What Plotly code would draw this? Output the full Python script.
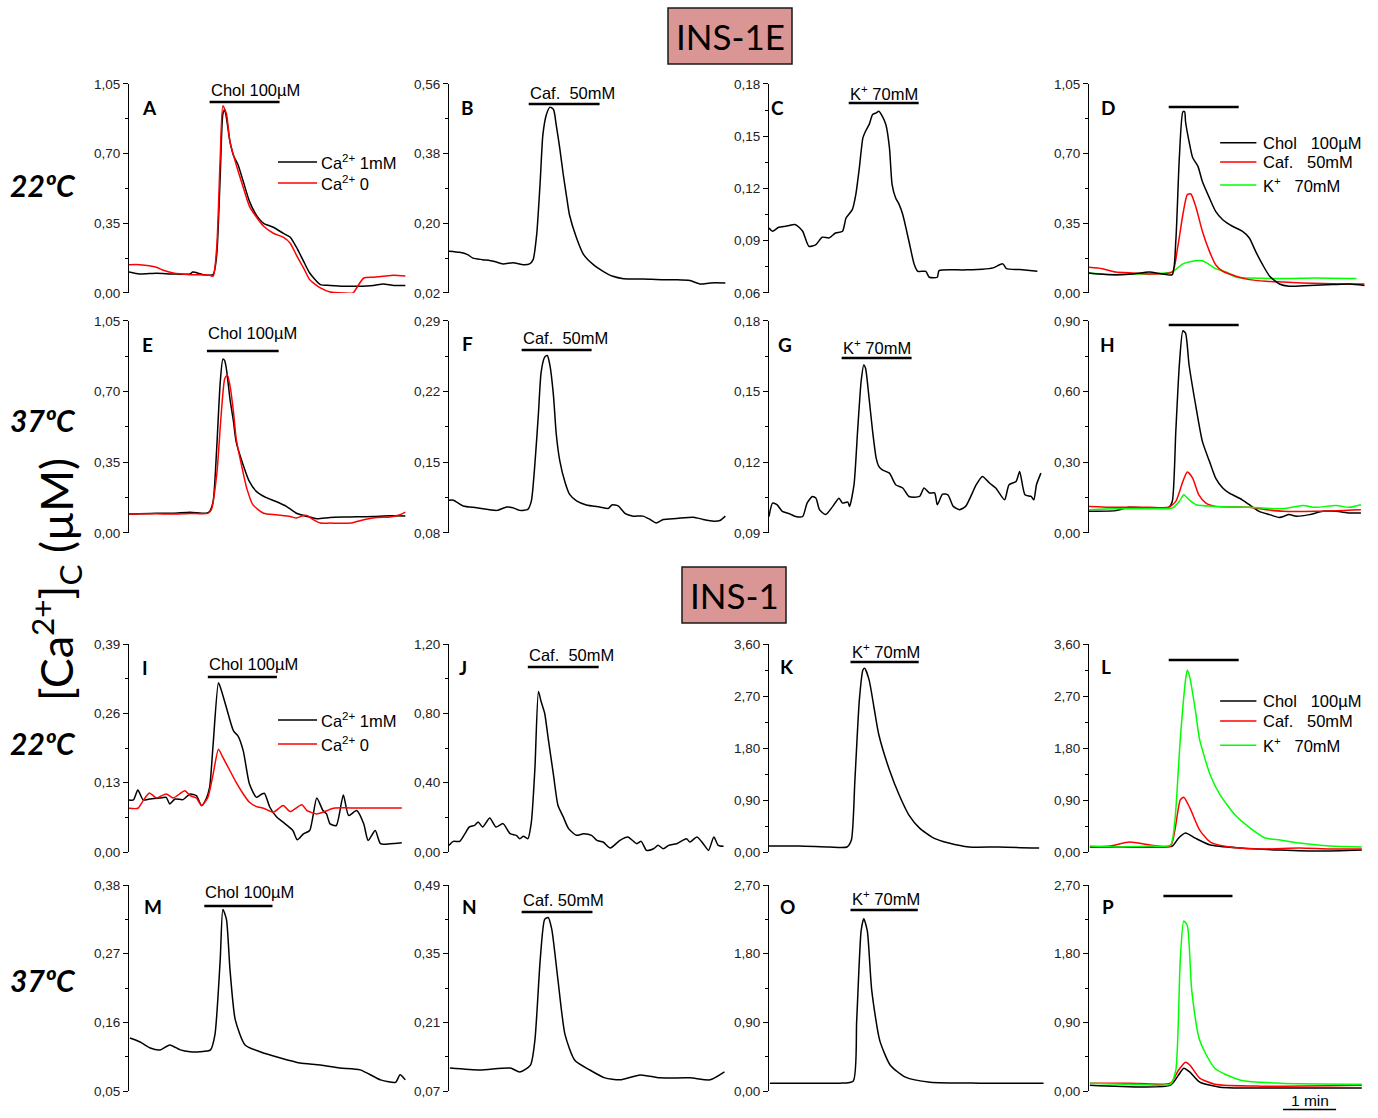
import plotly.graph_objects as go

# ---------------- DATA (time in s, [Ca2+]c in µM) ----------------
# Row 1 INS-1E 22ºC
A_ca1_t = [0,12,31,50,69,72,84,95,99,103,106,108,110,114,118,123,129,136,144,152,163,174,182,189,197,204,216,227,242,257,276,287,299,312]
A_ca1 = [0.105,0.095,0.099,0.095,0.095,0.105,0.092,0.092,0.19,0.59,0.90,0.92,0.88,0.76,0.69,0.645,0.56,0.46,0.39,0.35,0.33,0.30,0.28,0.23,0.16,0.10,0.042,0.038,0.034,0.034,0.038,0.045,0.038,0.038]
A_ca0_t = [0,12,31,38,50,69,91,95,99,103,106,110,114,121,129,136,144,152,163,174,182,189,197,204,216,227,242,253,257,265,276,287,299,312]
A_ca0 = [0.142,0.142,0.129,0.115,0.10,0.092,0.089,0.084,0.226,0.68,0.94,0.90,0.76,0.645,0.53,0.435,0.38,0.335,0.30,0.28,0.25,0.19,0.126,0.067,0.025,0.005,0.0,0.0,0.025,0.075,0.079,0.084,0.089,0.085]

B_t = [0,12,21,27,38,50,61,72,84,91,95,99,103,106,110,114,118,121,125,129,133,136,144,152,163,174,185,197,219,242,257,272,284,295,312]
B_caf = [0.128,0.125,0.119,0.110,0.106,0.102,0.095,0.098,0.093,0.095,0.106,0.171,0.309,0.429,0.481,0.500,0.494,0.455,0.395,0.326,0.265,0.222,0.162,0.119,0.093,0.076,0.063,0.057,0.056,0.054,0.054,0.052,0.043,0.046,0.046]

C_t = [0,4,11,19,30,38,45,53,60,68,75,83,87,94,98,102,106,109,113,117,121,124,128,132,136,139,143,147,151,158,164,168,177,181,190,192,219,241,253,264,268,283,303]
C_k = [0.0973,0.0954,0.0977,0.0983,0.0992,0.0954,0.0868,0.0878,0.092,0.0916,0.0944,0.0954,0.103,0.1078,0.1165,0.1318,0.149,0.1528,0.1566,0.1624,0.1634,0.1643,0.1614,0.1566,0.1433,0.1222,0.1145,0.1107,0.105,0.0897,0.0763,0.0724,0.0724,0.069,0.069,0.0728,0.0732,0.0736,0.0744,0.0767,0.074,0.0734,0.0724]

D_chol_t = [0,11,30,49,68,83,94,98,102,106,108,109,113,117,123,128,136,143,151,162,173,181,188,196,204,215,226,249,275,294,311]
D_chol = [0.10,0.095,0.092,0.095,0.105,0.095,0.092,0.26,0.68,0.91,0.91,0.86,0.76,0.68,0.636,0.56,0.477,0.41,0.368,0.335,0.31,0.276,0.21,0.142,0.084,0.045,0.034,0.038,0.042,0.045,0.038]
D_caf_t = [0,15,30,49,68,94,100,106,111,115,121,128,136,143,151,166,181,200,219,241,264,287,311]
D_caf = [0.129,0.122,0.105,0.10,0.095,0.105,0.226,0.394,0.494,0.497,0.427,0.31,0.209,0.142,0.109,0.084,0.067,0.059,0.055,0.05,0.047,0.045,0.045]
D_k_t = [0,15,30,49,68,94,100,106,113,128,136,143,155,166,181,219,256,302]
D_k = [0.10,0.095,0.089,0.095,0.095,0.105,0.126,0.146,0.156,0.162,0.142,0.122,0.105,0.079,0.075,0.072,0.075,0.072]

# Row 2 INS-1E 37ºC
E_ca1_t = [0,31,50,69,87,91,95,99,103,106,108,110,114,118,121,129,136,144,155,166,178,189,201,212,227,242,257,276,295,312]
E_ca1 = [0.094,0.098,0.098,0.103,0.098,0.107,0.156,0.418,0.746,0.861,0.853,0.812,0.664,0.55,0.451,0.336,0.254,0.205,0.175,0.156,0.131,0.098,0.082,0.071,0.077,0.079,0.080,0.082,0.085,0.084]
E_ca0_t = [0,31,50,69,89,93,99,104,108,111,114,118,121,127,133,140,152,166,182,189,197,202,208,216,227,250,265,280,295,306,312]
E_ca0 = [0.094,0.095,0.094,0.097,0.097,0.115,0.287,0.582,0.763,0.783,0.730,0.599,0.468,0.336,0.221,0.139,0.098,0.090,0.082,0.074,0.087,0.085,0.066,0.049,0.049,0.049,0.066,0.077,0.079,0.090,0.103]

F_t = [0,5,16,31,54,65,72,80,89,93,97,101,104,108,111,114,118,121,125,131,136,144,155,170,180,184,191,199,208,219,227,234,242,257,276,287,299,306,312]
F_caf = [0.1125,0.1125,0.1068,0.1051,0.1024,0.1058,0.1051,0.1024,0.1034,0.1118,0.1486,0.1988,0.2391,0.2542,0.2558,0.2458,0.2156,0.1788,0.152,0.1302,0.1185,0.1118,0.1078,0.1058,0.1044,0.1078,0.1068,0.0991,0.0967,0.0967,0.0934,0.09,0.0934,0.0944,0.0957,0.0934,0.0917,0.0924,0.0967]

G_t = [0,4,9,15,23,30,38,43,49,53,57,64,72,79,83,89,91,96,100,104,107,109,113,117,121,124,128,136,143,151,158,170,175,181,187,190,196,202,208,215,222,234,241,249,256,266,271,279,283,289,296,299,302,307]
G_k = [0.097,0.1027,0.102,0.0992,0.0982,0.097,0.097,0.1027,0.1055,0.1048,0.0999,0.0978,0.1013,0.1048,0.1027,0.1031,0.1013,0.1105,0.1331,0.1543,0.1613,0.1599,0.1472,0.1331,0.1218,0.1183,0.1168,0.1154,0.1105,0.1091,0.1055,0.1055,0.1091,0.107,0.107,0.102,0.1065,0.1062,0.1013,0.0999,0.1013,0.1105,0.114,0.1112,0.1091,0.1041,0.1105,0.1119,0.1161,0.1062,0.1055,0.1041,0.1105,0.1154]

H_chol_t = [0,30,45,68,90,94,98,102,106,109,113,121,128,136,143,151,158,166,173,181,192,204,215,226,234,249,264,279,294,307]
H_chol = [0.092,0.095,0.109,0.106,0.109,0.134,0.431,0.713,0.858,0.848,0.713,0.530,0.389,0.304,0.233,0.191,0.170,0.155,0.141,0.120,0.092,0.078,0.066,0.078,0.071,0.078,0.092,0.092,0.085,0.085]
H_caf_t = [0,30,68,90,98,106,111,117,124,132,143,181,200,219,256,307]
H_caf = [0.113,0.109,0.109,0.109,0.134,0.219,0.259,0.233,0.162,0.127,0.113,0.109,0.099,0.092,0.092,0.099]
H_k_t = [0,30,68,94,102,107,113,121,143,181,219,241,256,279,294,307]
H_k = [0.099,0.103,0.103,0.106,0.134,0.162,0.141,0.120,0.113,0.109,0.103,0.117,0.109,0.117,0.109,0.120]

# Row 3 INS-1 22ºC
I_ca1_t = [0,5,10,16,23,35,42,46,52,61,69,76,82,87,91,95,101,104,110,118,123,129,136,144,150,153,159,167,174,185,190,197,204,212,219,223,227,234,242,248,257,265,270,278,284,295,308]
I_ca1 = [0.0977,0.0977,0.1163,0.0977,0.0995,0.1014,0.1026,0.0902,0.0995,0.0983,0.1089,0.1057,0.0871,0.0995,0.1213,0.2022,0.3172,0.3048,0.2706,0.227,0.2177,0.1897,0.1275,0.1026,0.1089,0.1101,0.084,0.0653,0.056,0.0404,0.023,0.0342,0.0404,0.1014,0.0778,0.0715,0.0529,0.0498,0.107,0.0684,0.0778,0.0529,0.0218,0.0404,0.0156,0.0156,0.0174]
I_ca0_t = [0,10,16,23,31,42,50,63,69,76,82,89,95,101,106,114,121,129,136,144,152,163,174,182,195,201,212,219,231,257,308]
I_ca0 = [0.0821,0.0821,0.0964,0.1107,0.1014,0.1089,0.1014,0.1151,0.1057,0.1014,0.0871,0.1026,0.1462,0.1928,0.1773,0.1524,0.1306,0.1089,0.0933,0.0852,0.0821,0.0746,0.0871,0.0759,0.0889,0.0778,0.0715,0.0746,0.0821,0.0827,0.0827]

J_t = [0,5,12,18,23,29,33,38,46,53,61,69,76,80,84,89,93,97,101,104,108,112,118,123,129,135,144,152,161,167,174,182,193,202,212,217,223,231,236,242,248,257,268,272,280,287,293,299,304,310]
J_caf = [0.0386,0.0617,0.0617,0.1061,0.1447,0.1543,0.1736,0.1447,0.1968,0.1447,0.164,0.1061,0.0965,0.0772,0.0907,0.0772,0.1736,0.4823,0.926,0.868,0.8006,0.6559,0.4437,0.2701,0.2026,0.135,0.0965,0.1061,0.0965,0.0675,0.0579,0.0232,0.0675,0.0868,0.0482,0.0617,0.0096,0.0193,0.0386,0.0193,0.0386,0.0482,0.0772,0.0579,0.0868,0.0482,0.0096,0.0868,0.0386,0.0328]

K_t = [0,34,68,88,93,97,102,106,108,113,119,124,136,147,158,170,186,203,226,260,305]
K_k = [0.104,0.104,0.087,0.087,0.208,1.246,2.63,3.15,3.18,2.98,2.46,2.03,1.42,0.987,0.64,0.415,0.242,0.156,0.087,0.087,0.069]

L_k_t = [1,35,69,92,97,103,109,111,114,120,125,137,148,165,182,199,216,238,272,308]
L_k = [0.104,0.087,0.104,0.121,0.55,1.94,2.98,3.15,3.01,2.46,1.94,1.33,0.99,0.64,0.415,0.242,0.208,0.156,0.104,0.087]
L_caf_t = [1,24,46,69,92,97,103,107,114,125,137,159,193,238,272,308]
L_caf = [0.087,0.104,0.173,0.121,0.104,0.38,0.9,0.95,0.76,0.38,0.173,0.087,0.052,0.069,0.052,0.052]
L_chol_t = [1,69,94,101,109,120,137,171,216,261,308]
L_chol = [0.087,0.087,0.104,0.24,0.33,0.24,0.121,0.069,0.035,0.017,0.035]

# Row 4 INS-1 37ºC
M_t = [1,12,24,35,46,58,69,80,92,97,103,106,110,114,120,131,148,171,193,216,238,261,284,301,306,312]
M_chol = [0.135,0.129,0.119,0.116,0.124,0.116,0.113,0.113,0.116,0.140,0.261,0.341,0.325,0.245,0.164,0.124,0.113,0.103,0.095,0.092,0.087,0.084,0.068,0.064,0.076,0.068]

N_t = [1,35,69,80,92,97,103,108,112,116,123,131,142,159,176,193,216,238,272,295,311]
N_caf = [0.117,0.113,0.117,0.109,0.123,0.174,0.338,0.42,0.424,0.40,0.297,0.185,0.133,0.113,0.097,0.093,0.103,0.097,0.097,0.093,0.109]

O_t = [1,35,80,95,99,104,107,111,116,125,137,154,182,238,310]
O_k = [0.104,0.104,0.104,0.13,0.926,2.10,2.26,2.10,1.32,0.665,0.339,0.183,0.117,0.104,0.104]

P_k_t = [1,46,92,98,103,107,111,116,125,142,171,216,308]
P_k = [0.104,0.091,0.091,0.274,1.71,2.23,2.17,1.32,0.665,0.30,0.143,0.104,0.091]
P_caf_t = [1,46,92,101,109,114,125,142,193,308]
P_caf = [0.104,0.104,0.104,0.274,0.378,0.339,0.17,0.091,0.065,0.078]
P_chol_t = [1,92,101,107,114,125,148,205,308]
P_chol = [0.078,0.078,0.209,0.30,0.248,0.117,0.052,0.039,0.039]

# y tick labels (µM) per panel
TICKS = {
    "A": [0.00, 0.35, 0.70, 1.05], "B": [0.02, 0.20, 0.38, 0.56],
    "C": [0.06, 0.09, 0.12, 0.15, 0.18], "D": [0.00, 0.35, 0.70, 1.05],
    "E": [0.00, 0.35, 0.70, 1.05], "F": [0.08, 0.15, 0.22, 0.29],
    "G": [0.09, 0.12, 0.15, 0.18], "H": [0.00, 0.30, 0.60, 0.90],
    "I": [0.00, 0.13, 0.26, 0.39], "J": [0.00, 0.40, 0.80, 1.20],
    "K": [0.00, 0.90, 1.80, 2.70, 3.60], "L": [0.00, 0.90, 1.80, 2.70, 3.60],
    "M": [0.05, 0.16, 0.27, 0.38], "N": [0.07, 0.21, 0.35, 0.49],
    "O": [0.00, 0.90, 1.80, 2.70], "P": [0.00, 0.90, 1.80, 2.70],
}
# stimulus application windows (s)
STIM = {
    "A": (91, 170, "Chol 100µM"), "B": (90, 170, "Caf.  50mM"), "C": (90, 169, "K<sup>+</sup> 70mM"),
    "D": (90, 169, ""), "E": (88, 169, "Chol 100µM"), "F": (82, 161, "Caf.  50mM"),
    "G": (82, 161, "K<sup>+</sup> 70mM"), "H": (90, 169, ""), "I": (89, 167, "Chol 100µM"),
    "J": (89, 169, "Caf.  50mM"), "K": (92, 169, "K<sup>+</sup> 70mM"), "L": (90, 169, ""),
    "M": (85, 162, "Chol 100µM"), "N": (82, 162, "Caf. 50mM"), "O": (92, 168, "K<sup>+</sup> 70mM"),
    "P": (84, 162, ""),
}
SCALE_BAR_S = (219, 279)

# ---------------- LAYOUT ----------------
W, H = 1378, 1118
COLX = [129, 449, 769, 1089]
PW = 279
XMAX = 315
BLACK, RED, GREEN = "#000000", "#ff0000", "#00ff00"


def py(v):
    """target pixel row -> figure pixel row (compensates the capture's vertical fit)"""
    return min(max((v - 7.1) / 0.9864, 0.5), H - 0.5)


ROWY = [(py(84), py(293)), (py(321), py(533)), (py(644), py(852)), (py(885), py(1091))]

panels = [
    ("A", 0, 0, [(A_ca1_t, A_ca1, BLACK), (A_ca0_t, A_ca0, RED)]),
    ("B", 0, 1, [(B_t, B_caf, BLACK)]),
    ("C", 0, 2, [(C_t, C_k, BLACK)]),
    ("D", 0, 3, [(D_k_t, D_k, GREEN), (D_caf_t, D_caf, RED), (D_chol_t, D_chol, BLACK)]),
    ("E", 1, 0, [(E_ca1_t, E_ca1, BLACK), (E_ca0_t, E_ca0, RED)]),
    ("F", 1, 1, [(F_t, F_caf, BLACK)]),
    ("G", 1, 2, [(G_t, G_k, BLACK)]),
    ("H", 1, 3, [(H_chol_t, H_chol, BLACK), (H_caf_t, H_caf, RED), (H_k_t, H_k, GREEN)]),
    ("I", 2, 0, [(I_ca1_t, I_ca1, BLACK), (I_ca0_t, I_ca0, RED)]),
    ("J", 2, 1, [(J_t, J_caf, BLACK)]),
    ("K", 2, 2, [(K_t, K_k, BLACK)]),
    ("L", 2, 3, [(L_chol_t, L_chol, BLACK), (L_caf_t, L_caf, RED), (L_k_t, L_k, GREEN)]),
    ("M", 3, 0, [(M_t, M_chol, BLACK)]),
    ("N", 3, 1, [(N_t, N_caf, BLACK)]),
    ("O", 3, 2, [(O_t, O_k, BLACK)]),
    ("P", 3, 3, [(P_chol_t, P_chol, BLACK), (P_caf_t, P_caf, RED), (P_k_t, P_k, GREEN)]),
]
# (letter x, letter y, bar y, text y) in axis-domain fractions
POS = {
    "A": (0.075, 0.885, 0.914, 0.971), "B": (0.065, 0.885, 0.904, 0.957),
    "C": (0.032, 0.885, 0.909, 0.957), "D": (0.068, 0.885, 0.89, None),
    "E": (0.068, 0.89, 0.858, 0.943), "F": (0.065, 0.895, 0.863, 0.92),
    "G": (0.057, 0.887, 0.825, 0.877), "H": (0.068, 0.89, 0.981, None),
    "I": (0.057, 0.885, 0.841, 0.904), "J": (0.05, 0.885, 0.889, 0.947),
    "K": (0.065, 0.894, 0.913, 0.966), "L": (0.061, 0.894, 0.923, None),
    "M": (0.086, 0.898, 0.898, 0.966), "N": (0.072, 0.898, 0.869, 0.927),
    "O": (0.068, 0.898, 0.879, 0.937), "P": (0.068, 0.898, 0.947, None),
}

fig = go.Figure()
layout = dict(
    width=W, height=H, margin=dict(l=0, r=0, t=0, b=0),
    paper_bgcolor="white", plot_bgcolor="white", showlegend=False,
    separators=",.", font=dict(family="Liberation Sans, Arial", color="#000"),
)
shapes, annotations = [], []

for i, (letter, r, c, traces) in enumerate(panels, start=1):
    xs = "" if i == 1 else str(i)
    x0 = COLX[c]
    top, bot = ROWY[r]
    ticks = TICKS[letter]
    mids = [(ticks[k] + ticks[k + 1]) / 2 for k in range(len(ticks) - 1)]
    layout["xaxis" + xs] = dict(domain=[x0 / W, (x0 + PW) / W], range=[0, XMAX],
                                visible=False, anchor="y" + xs, fixedrange=True)
    layout["yaxis" + xs] = dict(
        domain=[1 - bot / H, 1 - top / H], range=[ticks[0], ticks[-1]], anchor="x" + xs,
        tickmode="array", tickvals=ticks, tickformat=".2f",
        showline=True, linecolor="#000", linewidth=1, ticks="outside", ticklen=5,
        tickcolor="#000", tickwidth=1, showgrid=False, zeroline=False,
        tickfont=dict(size=13.5, color="#222", family="Liberation Sans, Arial"),
        minor=dict(ticks="outside", ticklen=3, tickcolor="#000", tickvals=mids, showgrid=False),
        fixedrange=True,
    )
    for t, y, col in traces:
        fig.add_trace(go.Scatter(x=t, y=y, mode="lines", xaxis="x" + xs, yaxis="y" + xs,
                                 line=dict(color=col, width=1.5, shape="spline", smoothing=0.6),
                                 hoverinfo="skip"))
    lx, ly, by, ty = POS[letter]
    annotations.append(dict(text="<b>%s</b>" % letter, xref="x%s domain" % xs, yref="y%s domain" % xs,
                            x=lx, y=ly, xanchor="center", yanchor="middle", showarrow=False,
                            font=dict(size=19, family="Lato, Liberation Sans", color="#000")))
    s0, s1, label = STIM[letter]
    shapes.append(dict(type="line", xref="x" + xs, yref="y%s domain" % xs, x0=s0, x1=s1, y0=by, y1=by,
                       line=dict(color="#000", width=2.5)))
    if label:
        annotations.append(dict(text=label, xref="x" + xs, yref="y%s domain" % xs, x=s0 - 1, y=ty,
                                xanchor="left", yanchor="middle", showarrow=False,
                                font=dict(size=16.5, color="#000")))

# legends drawn as line samples + labels (domain coords)
def legend(xs, entries, xa, xb, xt):
    for txt, col, yy in entries:
        shapes.append(dict(type="line", xref="x%s domain" % xs, yref="y%s domain" % xs,
                           x0=xa, x1=xb, y0=yy, y1=yy, line=dict(color=col, width=1.5)))
        annotations.append(dict(text=txt, xref="x%s domain" % xs, yref="y%s domain" % xs,
                                x=xt, y=yy, xanchor="left", yanchor="middle", showarrow=False,
                                font=dict(size=16.5, color="#000")))

legend("", [("Ca<sup>2+</sup> 1mM", BLACK, 0.627), ("Ca<sup>2+</sup> 0", RED, 0.526)], 0.534, 0.674, 0.68)
legend("9", [("Ca<sup>2+</sup> 1mM", BLACK, 0.635), ("Ca<sup>2+</sup> 0", RED, 0.52)], 0.534, 0.674, 0.68)
legend("4", [("Chol   100µM", BLACK, 0.718), ("Caf.   50mM", RED, 0.627), ("K<sup>+</sup>   70mM", GREEN, 0.517)],
       0.47, 0.60, 0.615)
legend("12", [("Chol   100µM", BLACK, 0.726), ("Caf.   50mM", RED, 0.63), ("K<sup>+</sup>   70mM", GREEN, 0.514)],
       0.47, 0.60, 0.615)

# scale bar (1 min) under panel P
sb_y = py(1115)
shapes.append(dict(type="line", xref="x16", yref="paper", x0=SCALE_BAR_S[0], x1=SCALE_BAR_S[1],
                   y0=1 - sb_y / H, y1=1 - sb_y / H, line=dict(color="#000", width=1.5)))
annotations.append(dict(text="1 min", xref="x16", yref="paper", x=(SCALE_BAR_S[0] + SCALE_BAR_S[1]) / 2,
                        y=1 - (sb_y + 1.5) / H, xanchor="center", yanchor="bottom", showarrow=False,
                        font=dict(size=15.5, color="#000")))

# cell-line header boxes
for txt, (bx0, by0, bx1, by1) in [("INS-1E", (668, 8, 792, 64)), ("INS-1", (682, 567, 786, 623))]:
    y0p, y1p = py(by0), py(by1)
    shapes.append(dict(type="rect", xref="paper", yref="paper", x0=bx0 / W, x1=bx1 / W,
                       y0=1 - y1p / H, y1=1 - y0p / H, fillcolor="#d99694",
                       line=dict(color="#1a1a1a", width=1.5), layer="below"))
    annotations.append(dict(text=txt, xref="paper", yref="paper", x=(bx0 + bx1) / 2 / W,
                            y=1 - (y0p + y1p) / 2 / H, xanchor="center", yanchor="middle",
                            showarrow=False, font=dict(size=35, family="Lato, Liberation Sans", color="#000")))

# temperature row labels
for txt, ry in [("22ºC", 185), ("37ºC", 420), ("22ºC", 743), ("37ºC", 980)]:
    annotations.append(dict(text="<b><i>%s</i></b>" % txt, xref="paper", yref="paper", x=43 / W,
                            y=1 - py(ry) / H, xanchor="center", yanchor="middle", showarrow=False,
                            font=dict(size=30, family="Lato, Liberation Sans", color="#000")))

# y-axis title
annotations.append(dict(text="[Ca<sup>2+</sup>]<sub>C</sub> (µM)", xref="paper", yref="paper",
                        x=56 / W, y=1 - py(580) / H, xanchor="center", yanchor="middle",
                        textangle=-90, showarrow=False,
                        font=dict(size=45, family="Lato, Liberation Sans", color="#000")))

layout["shapes"] = shapes
layout["annotations"] = annotations
fig.update_layout(**layout)
page_css = ("var s='margin:0;padding:0;overflow:hidden';"
            "document.documentElement.style.cssText=s;document.body.style.cssText=s;"
            "var g=document.querySelector('.plotly-graph-div');"
            "if(g){g.style.position='fixed';g.style.top='0px';g.style.left='0px';g.style.margin='0';}")
fig.write_html("out.html", config={"displayModeBar": False}, post_script=page_css)
